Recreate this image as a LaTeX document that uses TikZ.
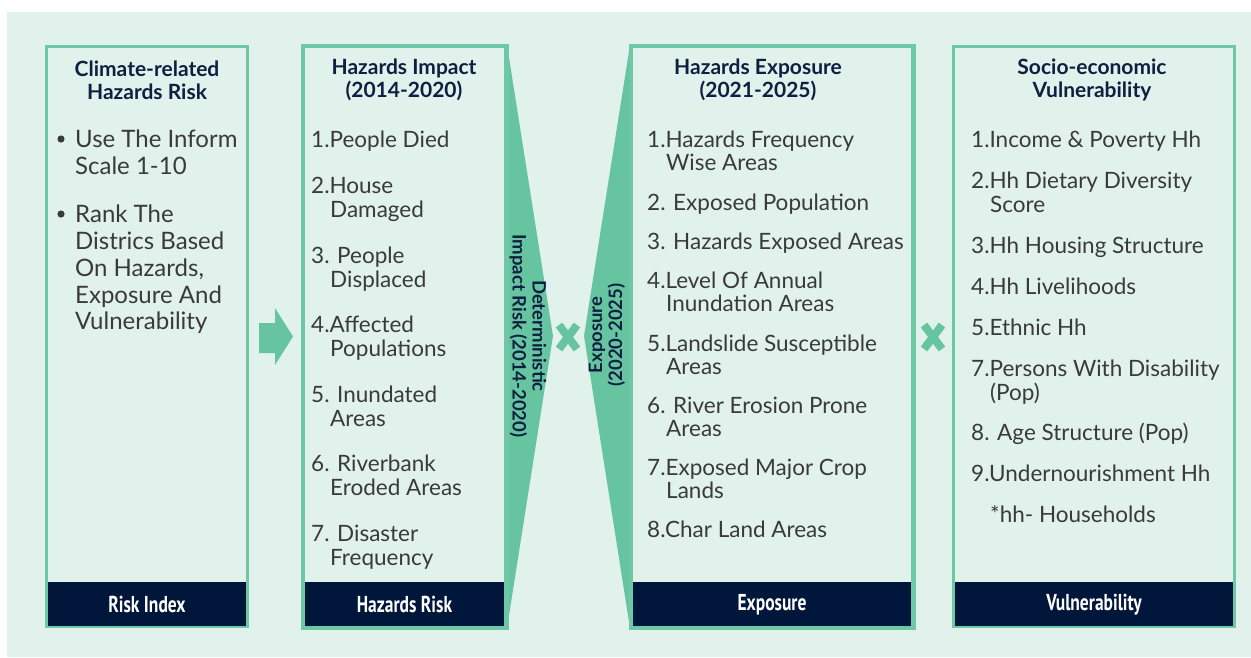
\documentclass[tikz,border=0pt]{standalone}
\usepackage{fontspec}
\setmainfont{Lato}
\newfontfamily\footfont[FakeStretch=0.76]{PT Sans}
\usepackage{xcolor}
\definecolor{mintbg}{HTML}{E1F2EC}
\definecolor{leaf}{HTML}{66C4A0}
\definecolor{navy}{HTML}{00163A}
\definecolor{headnavy}{HTML}{0F1F40}
\definecolor{ink}{HTML}{3A3A3A}
\usetikzlibrary{positioning}

\begin{document}
\begin{tikzpicture}[x=1pt, y=-1pt,
    panel/.style = {draw=leaf!95!white, line width=3pt, minimum height=580pt,
                   inner sep=0pt},
    foot/.style = {fill=navy, text=white, inner sep=0pt, minimum height=44pt,
                  font=\footfont\bfseries\fontsize{23}{23}\selectfont},
    head/.style = {text=headnavy, align=center, inner sep=0pt,
                  font=\bfseries\fontsize{21}{23}\selectfont},
    item/.style = {text=ink, anchor=base west, inner sep=0pt,
                  font=\fontsize{22.5}{23}\selectfont},
    bigitem/.style = {item, font=\fontsize{24}{27}\selectfont},
    side/.style = {text=headnavy, align=center, inner sep=0pt,
                  font=\bfseries\fontsize{18.5}{20}\selectfont},
    cross/.style = {draw=leaf, line width=8pt}
  ]
  \useasboundingbox (0,0) rectangle (1251,657);
  \fill[white] (0,0) rectangle (1251,657);
  \fill[mintbg] (7,12) rectangle (1251,657);

  % boxes
  \node (risk) at (147,336.5) [panel, minimum width=201pt] {};
  \node (impact) at (404.5,336.5) [panel, minimum width=202pt] {};
  \node (expo) at (772,336.5) [panel, minimum width=281pt] {};
  \node (vuln) at (1094,336.5) [panel, minimum width=281pt] {};

  % wedges
  \coordinate (ltip) at (553,336);
  \coordinate (rtip) at (584,336);
  \fill[leaf] (impact.north east) -- (ltip) -- (impact.south east) -- cycle;
  \fill[leaf] (expo.north west) -- (rtip) -- (expo.south west) -- cycle;
  \draw[panel, fill=none] (impact.south west) rectangle (impact.north east);
  \draw[panel, fill=none] (expo.south west) rectangle (expo.north east);

  % footers
  \node (riskfoot) [foot, minimum width=198pt, above=1.5pt of risk.south, anchor=south] {Risk Index};
  \node (impactfoot) [foot, minimum width=199pt, above=1.5pt of impact.south, anchor=south] {Hazards Risk};
  \node (expofoot) [foot, minimum width=278pt, above=1.5pt of expo.south, anchor=south] {Exposure};
  \node (vulnfoot) [foot, minimum width=278pt, above=1.5pt of vuln.south, anchor=south] {Vulnerability};

  % headings
  \node (riskhead) at (147,80) [head] {Climate-related\\Hazards Risk};
  \node (impacthead) at (404,80) [head] {Hazards Impact\\(2014-2020)};
  \node (expohead) at (758,80) [head] {Hazards Exposure\\(2021-2025)};
  \node (vulnhead) at (1092,80) [head] {Socio-economic\\Vulnerability};

  % risk index
  \foreach \y/\t in {147/Use The Inform, 174/Scale 1-10, 222/Rank The,
                     249/Districs Based, 276/{On Hazards,}, 303/Exposure And,
                     329/Vulnerability}
    \node (risk\y) at (75,\y) [bigitem] {\t};
  \foreach \y in {139,214}
    \fill[ink] (61,\y) circle (3.6pt) coordinate (dot\y);

  % hazards impact
  \foreach \x/\y/\t in {311/147/1.People Died, 311/193/2.House, 330/217/Damaged,
                        311/263/3. People, 330/287/Displaced,
                        311/332/4.Affected, 330/356/Populations,
                        311/402/5. Inundated, 330/426/Areas,
                        311/471/6. Riverbank, 330/495/Eroded Areas,
                        311/541/7. Disaster, 330/565/Frequency}
    \node (imp\y) at (\x,\y) [item] {\t};

  % hazards exposure
  \foreach \x/\y/\t in {647/147/1.Hazards Frequency, 666/170/Wise Areas,
                        647/210/2. Exposed Population, 647/249/3. Hazards Exposed Areas,
                        647/288/4.Level Of Annual, 666/311/Inundation Areas,
                        647/351/5.Landslide Susceptible, 666/374/Areas,
                        647/413/6. River Erosion Prone, 666/436/Areas,
                        647/475/7.Exposed Major Crop, 666/498/Lands,
                        647/537/8.Char Land Areas}
    \node (exp\y) at (\x,\y) [item] {\t};

  % vulnerability
  \foreach \x/\y/\t in {971/147/{1.Income \& Poverty Hh}, 971/188/2.Hh Dietary Diversity,
                        990/212/Score, 971/253/3.Hh Housing Structure,
                        971/294/4.Hh Livelihoods, 971/335/5.Ethnic Hh,
                        971/376/7.Persons With Disability, 990/400/(Pop),
                        971/440/8. Age Structure (Pop), 971/481/9.Undernourishment Hh,
                        990/522/*hh- Households}
    \node (vul\y) at (\x,\y) [item] {\t};

  % side labels
  \node (detlabel) at (528,336) [side, rotate=-90] {Deterministic\\Impact Risk (2014-2020)};
  \node (explabel) at (607,335) [side, rotate=90] {Exposure\\(2020-2025)};

  % arrow and crosses
  \fill[leaf] (259,323) -- (275,323) -- (275,308) -- (293,336.5) -- (275,365)
              -- (275,353) -- (259,353) -- cycle;
  \coordinate (xone) at (568,337);
  \coordinate (xtwo) at (933,337);
  \foreach \c in {xone,xtwo}
    \draw[cross] ([shift={(-9,-12)}]\c) -- ([shift={(9,12)}]\c)
                 ([shift={(-9,12)}]\c) -- ([shift={(9,-12)}]\c);
\end{tikzpicture}
\end{document}
